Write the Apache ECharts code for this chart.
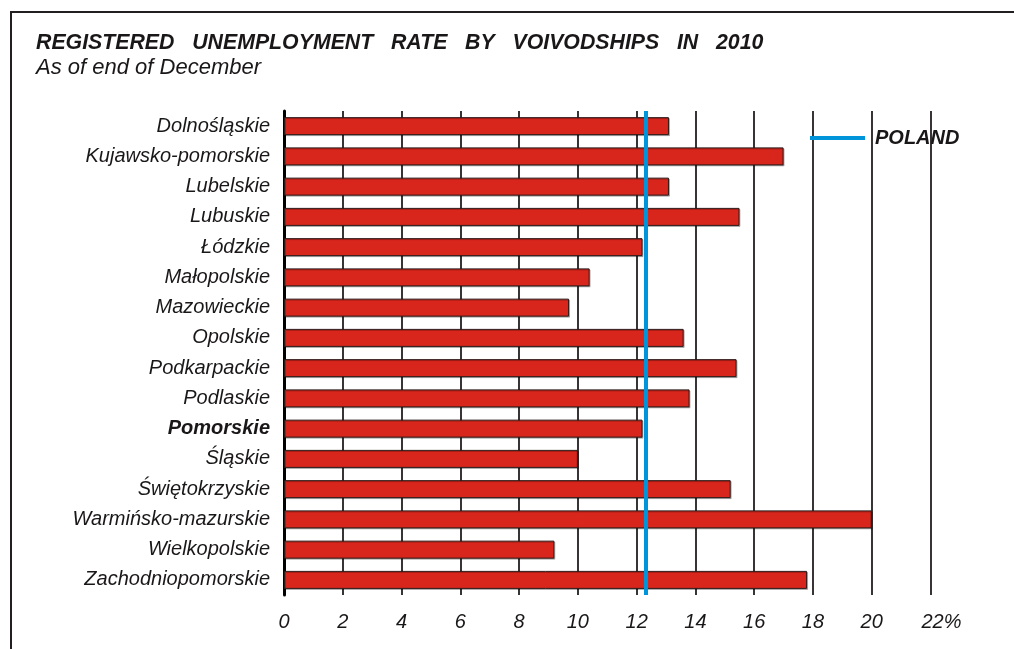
<!DOCTYPE html>
<html>
<head>
<meta charset="utf-8">
<script src="https://cdn.jsdelivr.net/npm/echarts@6/dist/echarts.min.js"></script>
<style>
html,body{margin:0;padding:0;background:#fff;}
#chart{width:1014px;height:649px;}
</style>
</head>
<body>
<div id="chart"></div>
<script>
const categories = ['Dolnośląskie','Kujawsko-pomorskie','Lubelskie','Lubuskie','Łódzkie','Małopolskie','Mazowieckie','Opolskie','Podkarpackie','Podlaskie','Pomorskie','Śląskie','Świętokrzyskie','Warmińsko-mazurskie','Wielkopolskie','Zachodniopomorskie'];
const rates = [13.1,17.0,13.1,15.5,12.2,10.4,9.7,13.6,15.4,13.8,12.2,10.0,15.2,20.0,9.2,17.8];
const polandRate = 12.3;
const boldCategory = 'Pomorskie';
const xTicks = [0,2,4,6,8,10,12,14,16,18,20,22];
const titleText = 'REGISTERED   UNEMPLOYMENT   RATE   BY   VOIVODSHIPS   IN   2010';
const subtitleText = 'As of end of December';
const legendName = 'POLAND';

const FONT = '"Liberation Sans", Arial, sans-serif';
const INK = '#1a1718';
const chart = echarts.init(document.getElementById('chart'));
chart.setOption({
  animation: false,
  backgroundColor: '#fff',
  textStyle: {fontFamily: FONT},
  graphic: [{
    type: 'polyline',
    shape: {points: [[11, 660], [11, 12], [1030, 12]]},
    style: {stroke: '#231f20', lineWidth: 2, fill: null}
  }],
  title: {
    text: titleText,
    subtext: subtitleText,
    left: 31, top: 28,
    itemGap: 3,
    textStyle: {fontFamily: FONT, fontSize: 21.3, fontWeight: 'bold', fontStyle: 'italic', color: INK},
    subtextStyle: {fontFamily: FONT, fontSize: 22, fontStyle: 'italic', color: INK}
  },
  legend: {
    data: [{name: legendName, icon: 'rect'}],
    left: 810, top: 128,
    padding: 0,
    itemWidth: 55, itemHeight: 4,
    itemGap: 10,
    textStyle: {fontFamily: FONT, fontSize: 20, fontWeight: 'bold', fontStyle: 'italic', color: INK, padding: [0,0,0,5]}
  },
  grid: {left: 284, right: 83.5, top: 111, bottom: 54, containLabel: false},
  xAxis: {
    type: 'value', min: 0, max: 22, interval: 2,
    axisLine: {show: false},
    axisTick: {show: false},
    splitLine: {show: true, lineStyle: {color: '#231f20', width: 1.8}},
    axisLabel: {
      margin: 17,
      fontFamily: FONT, fontSize: 20, fontStyle: 'italic', color: INK,
      formatter: v => v === xTicks[xTicks.length-1] ? '{p|' + v + '%}' : String(v),
      rich: {p: {fontFamily: FONT, fontSize: 20, fontStyle: 'italic', color: INK, padding: [0,0,0,22]}}
    }
  },
  yAxis: {
    type: 'category', data: categories, inverse: true,
    axisLine: {show: true, onZero: false, lineStyle: {color: '#000', width: 3}},
    axisTick: {show: false},
    axisLabel: {
      margin: 14,
      fontFamily: FONT, fontSize: 20, fontStyle: 'italic', color: INK,
      formatter: v => v === boldCategory ? '{b|' + v + '}' : v,
      rich: {b: {fontFamily: FONT, fontSize: 20, fontStyle: 'italic', fontWeight: 'bold', color: INK}}
    }
  },
  series: [{
    type: 'bar',
    data: rates,
    barWidth: 18,
    itemStyle: {color: '#d9261c', borderColor: '#2b1a18', borderWidth: 1,
      shadowColor: 'rgba(0,0,0,0.25)', shadowOffsetX: 1, shadowOffsetY: 1, shadowBlur: 0}
  }, {
    type: 'line',
    name: legendName,
    data: [],
    color: '#0094db',
    markLine: {
      silent: true,
      symbol: 'none',
      label: {show: false},
      lineStyle: {color: '#0094db', width: 4, type: 'solid'},
      data: [{xAxis: polandRate}]
    }
  }]
});
</script>
</body>
</html>
